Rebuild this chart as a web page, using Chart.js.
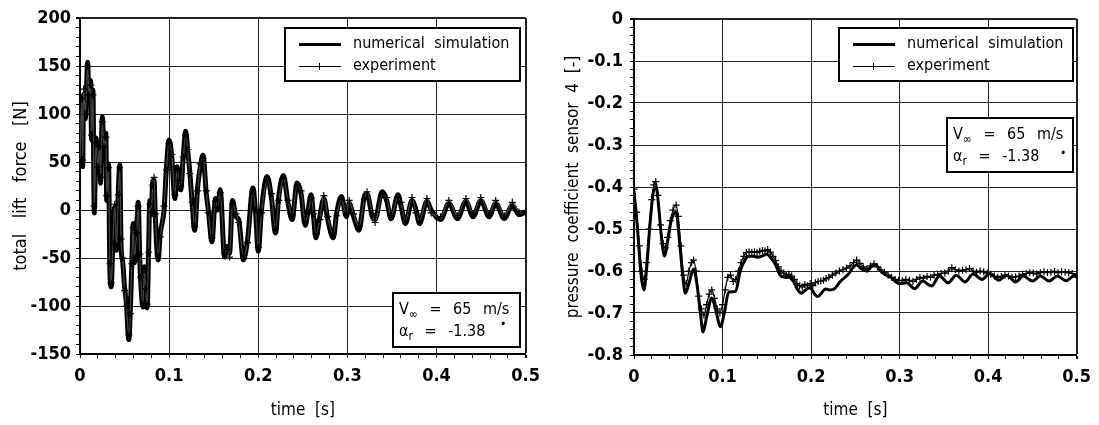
<!DOCTYPE html>
<html>
<head>
<meta charset="utf-8">
<script src="https://cdn.jsdelivr.net/npm/chart.js@4.4.1/dist/chart.umd.min.js"></script>
<style>
  body { margin: 0; background: #fff; width: 1099px; height: 425px; position: relative; overflow: hidden; }
  canvas { position: absolute; top: 0; }
  #liftChart { left: 0; }
  #cpChart { left: 548px; }
  .box {
    position: absolute; background: #fff; border: 2px solid #000; box-sizing: border-box;
    font-family: 'DejaVu Sans Condensed', 'DejaVu Sans', sans-serif;
    font-size: 16px; color: #000; white-space: pre;
  }
  .row { position: absolute; left: 0; height: 20px; line-height: 20px; }
  .legend .row { word-spacing: 5px; }
  .sample { position: absolute; background: #000; }
  .tick { position: absolute; width: 1px; height: 7px; background: #000; }
  .note .row { word-spacing: 7px; }
  .deg { position: absolute; font-size: 12px; line-height: 12px; }
  sub { font-size: 12px; vertical-align: -4px; }
</style>
</head>
<body>
<canvas id="liftChart" width="548" height="425"></canvas>
<canvas id="cpChart" width="551" height="425"></canvas>

<div class="box legend" style="left:284px; top:27px; width:237px; height:55px;">
  <div class="sample" style="left:13px; top:14px; width:42px; height:3px;"></div>
  <div class="row" style="left:67px; top:4px;">numerical simulation</div>
  <div class="sample" style="left:13px; top:37px; width:42px; height:1px;"></div>
  <div class="tick" style="left:33px; top:34px;"></div>
  <div class="row" style="left:67px; top:26px;">experiment</div>
</div>
<div class="box note" style="left:392px; top:292px; width:129px; height:56px;">
  <div class="row" style="left:5px; top:5px;">V<sub>∞</sub> = 65 m/s</div>
  <div class="row" style="left:5px; top:27px;">α<sub>r</sub> = -1.38</div>
  <div class="deg" style="left:106px; top:24px;">•</div>
</div>

<div class="box legend" style="left:838px; top:27px; width:236px; height:55px;">
  <div class="sample" style="left:13px; top:14px; width:42px; height:3px;"></div>
  <div class="row" style="left:67px; top:4px;">numerical simulation</div>
  <div class="sample" style="left:13px; top:37px; width:42px; height:1px;"></div>
  <div class="tick" style="left:33px; top:34px;"></div>
  <div class="row" style="left:67px; top:26px;">experiment</div>
</div>
<div class="box note" style="left:946px; top:117px; width:128px; height:56px;">
  <div class="row" style="left:5px; top:5px;">V<sub>∞</sub> = 65 m/s</div>
  <div class="row" style="left:5px; top:27px;">α<sub>r</sub> = -1.38</div>
  <div class="deg" style="left:112px; top:28px;">•</div>
</div>

<script>
// total lift force [N] (shared time base)
const liftT = [
  0.000, 0.002, 0.003, 0.004, 0.006, 0.0086, 0.010, 0.012, 0.013, 0.0145,
  0.016, 0.018, 0.020, 0.022, 0.023, 0.025, 0.027, 0.029, 0.030, 0.032,
  0.0335, 0.035, 0.037, 0.039, 0.041, 0.043, 0.0447, 0.046, 0.048, 0.050,
  0.052, 0.0548, 0.0565, 0.058, 0.0597, 0.061, 0.0635, 0.0653, 0.067, 0.068,
  0.0708, 0.072, 0.0735, 0.0753, 0.077, 0.0783, 0.080, 0.0815, 0.0831, 0.0845,
  0.0876, 0.090, 0.0943, 0.097, 0.0999, 0.103, 0.1065, 0.109, 0.111, 0.113,
  0.116, 0.1186, 0.121, 0.123, 0.126, 0.1286, 0.132, 0.135, 0.138, 0.1417,
  0.144, 0.148, 0.152, 0.1545, 0.1573, 0.1622, 0.165, 0.1678, 0.171, 0.175,
  0.178, 0.1834, 0.188, 0.194, 0.197, 0.200, 0.2036, 0.210, 0.2146, 0.2193,
  0.223, 0.2282, 0.2334, 0.238, 0.2435, 0.248, 0.2527, 0.256, 0.2593, 0.262,
  0.2647, 0.269, 0.2736, 0.278, 0.2841, 0.288, 0.2933, 0.2989, 0.302, 0.307,
  0.313, 0.319, 0.322, 0.328, 0.331, 0.339, 0.344, 0.349, 0.3568, 0.360,
  0.3651, 0.3725, 0.377, 0.3809, 0.3893, 0.394, 0.4046, 0.4139, 0.4234, 0.433,
  0.441, 0.4497, 0.459, 0.4664, 0.476, 0.485, 0.4925, 0.500];
const liftSim = [
  60, 110, 45, 120, 95, 154, 115, 135, 73, 125,
  -3, 75, 40, 70, 28, 97, 62, 80, 10, 48,
  -62, -80, -30, 3, -42, 20, 47, -34, -55, -80,
  -97, -135, -104, -60, -14, -55, -20, 8, -50, -73,
  -101, -59, -85, -102, -40, 10, -5, 30, 31, -7,
  -52, -25, 0, 45, 73, 55, 12, 45, 28, 21,
  58, 82, 60, 42, 5, -21, 24, 45, 57, 17,
  0, -33, 12, 0, 21, -49, -38, -45, 10, -7,
  -10, -52, -31, 23, -3, -43, 0, 35, 14, -24,
  14, 36, 7, -10, 28, 17, -16, 0, 16, -7,
  -29, -7, 12, -10, -29, -3, 14, -7, 7, -7,
  -21, 14, 17, -7, -10, 19, 10, -9, 16, 5,
  -14, 10, 0, -14, 9, 0, -10, 7, -9, 9,
  -7, 10, -7, 7, -9, 5, -5, -2];
const liftExp = [
  52, 116, 52, 126, 100, 150, 120, 130, 78, 120,
  4, 70, 45, 66, 34, 92, 66, 76, 15, 44,
  -56, -76, -34, 6, -38, 16, 44, -30, -50, -84,
  -100, -130, -108, -56, -18, -50, -24, 4, -46, -70,
  -98, -62, -82, -98, -44, 6, -2, 26, 34, -4,
  -48, -28, 4, 42, 70, 58, 16, 42, 31, 24,
  55, 78, 63, 38, 8, -17, 20, 48, 54, 20,
  -3, -29, 9, 3, 18, -45, -41, -49, 6, -4,
  -13, -48, -34, 19, 0, -39, -3, 31, 17, -20,
  10, 33, 10, -6, 25, 20, -12, -3, 13, -4,
  -25, -10, 15, -7, -25, -6, 11, -4, 10, -4,
  -17, 11, 19, -4, -13, 16, 13, -6, 13, 8,
  -11, 13, -3, -11, 12, -3, -7, 10, -6, 12,
  -4, 13, -4, 10, -6, 8, -2, -4];

// pressure coefficient sensor 4 [-]
const cpSimT = [0.000, 0.004, 0.008, 0.0112, 0.014, 0.018, 0.022, 0.025, 0.028, 0.031, 0.0346, 0.038, 0.042, 0.0476,
  0.051, 0.055, 0.058, 0.062, 0.0673, 0.071, 0.075, 0.078, 0.082, 0.0878, 0.092, 0.0978, 0.102, 0.107, 0.1146,
  0.120, 0.125, 0.1295, 0.135, 0.140, 0.145, 0.150, 0.155, 0.160, 0.165, 0.170, 0.175, 0.180, 0.185, 0.189, 0.194,
  0.199, 0.204, 0.2076, 0.212, 0.216, 0.221, 0.226, 0.233, 0.241, 0.2515, 0.257, 0.2634, 0.268, 0.2727, 0.277, 0.282,
  0.290, 0.300, 0.308, 0.317, 0.326, 0.336, 0.345, 0.355, 0.364, 0.374, 0.383, 0.393, 0.402, 0.412, 0.421, 0.431,
  0.440, 0.450, 0.459, 0.469, 0.478, 0.488, 0.497, 0.500];
const cpSim = [-0.41, -0.50, -0.61, -0.645, -0.60, -0.49, -0.41, -0.40, -0.45, -0.52, -0.565, -0.53, -0.48, -0.46,
  -0.52, -0.61, -0.653, -0.63, -0.595, -0.63, -0.70, -0.745, -0.71, -0.664, -0.69, -0.733, -0.70, -0.65, -0.649,
  -0.60, -0.575, -0.565, -0.565, -0.567, -0.564, -0.56, -0.57, -0.585, -0.61, -0.615, -0.615, -0.625, -0.645, -0.653, -0.645,
  -0.64, -0.655, -0.661, -0.652, -0.643, -0.645, -0.643, -0.625, -0.61, -0.586, -0.595, -0.60, -0.59, -0.585, -0.595, -0.606,
  -0.615, -0.630, -0.628, -0.642, -0.624, -0.636, -0.612, -0.628, -0.610, -0.626, -0.607, -0.620, -0.606, -0.622, -0.610, -0.626,
  -0.612, -0.624, -0.612, -0.624, -0.612, -0.623, -0.612, -0.614];

const cpExpT = [0.000, 0.003, 0.006, 0.009, 0.0115, 0.014, 0.017, 0.020, 0.0225, 0.0246, 0.027, 0.030, 0.033, 0.0355,
  0.038, 0.041, 0.044, 0.0476, 0.050, 0.053, 0.056, 0.059, 0.062, 0.065, 0.0673, 0.070, 0.073, 0.076, 0.079, 0.082,
  0.085, 0.0878, 0.091, 0.094, 0.097, 0.100, 0.103, 0.106, 0.109, 0.112, 0.115, 0.118, 0.121, 0.124, 0.127, 0.130,
  0.133, 0.136, 0.139, 0.142, 0.145, 0.148, 0.151, 0.154, 0.157, 0.160, 0.163, 0.166, 0.169, 0.172, 0.175, 0.178,
  0.181, 0.184, 0.187, 0.190, 0.193, 0.196, 0.199, 0.202, 0.205, 0.208, 0.211, 0.214, 0.217, 0.220, 0.224, 0.228,
  0.232, 0.236, 0.240, 0.244, 0.248, 0.2515, 0.255, 0.259, 0.263, 0.267, 0.271, 0.275, 0.279, 0.283, 0.287, 0.291,
  0.295, 0.299, 0.303, 0.307, 0.311, 0.315, 0.319, 0.323, 0.327, 0.331, 0.335, 0.339, 0.343, 0.347, 0.351, 0.355,
  0.359, 0.363, 0.367, 0.371, 0.375, 0.379, 0.383, 0.387, 0.391, 0.395, 0.399, 0.403, 0.407, 0.411, 0.415, 0.419,
  0.423, 0.427, 0.431, 0.435, 0.439, 0.443, 0.447, 0.451, 0.455, 0.459, 0.463, 0.467, 0.471, 0.475, 0.479, 0.483,
  0.487, 0.491, 0.495, 0.500];
const cpExp = [-0.405, -0.46, -0.54, -0.60, -0.62, -0.58, -0.50, -0.43, -0.395, -0.387, -0.42, -0.49, -0.535, -0.545,
  -0.52, -0.48, -0.455, -0.443, -0.47, -0.54, -0.61, -0.63, -0.60, -0.58, -0.574, -0.60, -0.66, -0.69, -0.705, -0.68,
  -0.655, -0.645, -0.665, -0.69, -0.70, -0.68, -0.645, -0.615, -0.61, -0.625, -0.62, -0.60, -0.58, -0.565, -0.556, -0.554,
  -0.556, -0.554, -0.556, -0.553, -0.551, -0.552, -0.549, -0.555, -0.565, -0.575, -0.59, -0.60, -0.605, -0.61, -0.608, -0.612,
  -0.62, -0.63, -0.635, -0.638, -0.632, -0.635, -0.63, -0.635, -0.628, -0.625, -0.624, -0.622, -0.618, -0.615, -0.61, -0.605,
  -0.60, -0.597, -0.593, -0.588, -0.58, -0.574, -0.582, -0.59, -0.595, -0.588, -0.583, -0.59, -0.598, -0.603, -0.61, -0.615,
  -0.62, -0.622, -0.623, -0.62, -0.622, -0.625, -0.62, -0.615, -0.617, -0.613, -0.615, -0.61, -0.608, -0.606, -0.605, -0.60,
  -0.592, -0.597, -0.60, -0.598, -0.597, -0.594, -0.600, -0.603, -0.600, -0.602, -0.605, -0.608, -0.612, -0.615, -0.613, -0.610,
  -0.612, -0.615, -0.614, -0.612, -0.608, -0.606, -0.604, -0.605, -0.607, -0.604, -0.602, -0.604, -0.603, -0.601, -0.604, -0.602,
  -0.603, -0.604, -0.606, -0.608];

const seriesNames = ['numerical simulation', 'experiment'];

const FONT = "'DejaVu Sans Condensed', 'DejaVu Sans', sans-serif";

function pairs(ts, vs) {
  return ts.map((t, i) => ({ x: t, y: vs[i] }));
}

function isMajor(v, step) {
  const r = Math.round(v / step * 1000) / 1000;
  return Math.abs(r - Math.round(r)) < 1e-6;
}

function make_chart(canvasId, cfg) {
  const data = {
    datasets: [{
      label: seriesNames[0],
      data: pairs(cfg.simT, cfg.sim),
      borderColor: '#000',
      borderWidth: cfg.simWidth,
      pointRadius: 0,
      cubicInterpolationMode: 'monotone',
      order: 2
    }, {
      label: seriesNames[1],
      data: pairs(cfg.expT, cfg.exp),
      borderColor: cfg.expColor,
      borderWidth: 1.2,
      pointStyle: 'cross',
      pointRadius: 3.5,
      pointBorderWidth: 1.2,
      pointBorderColor: '#000',
      cubicInterpolationMode: 'monotone',
      order: 1
    }]
  };

  const config = {
    type: 'line',
    data: data,
    options: {
      responsive: false,
      animation: false,
      layout: {
        padding: { left: 0, right: cfg.padRight, top: cfg.padTop, bottom: 0 }
      },
      plugins: {
        legend: { display: false },
        tooltip: { enabled: false }
      },
      scales: {
        x: {
          type: 'linear',
          min: 0,
          max: 0.5,
          afterFit: (scale) => { scale.height = cfg.xHeight; },
          ticks: {
            stepSize: 0.02,
            autoSkip: false,
            maxRotation: 0,
            padding: 8,
            color: '#000',
            font: { family: FONT, size: 18, weight: 'bold' },
            callback: (v) => isMajor(v, 0.1) ? String(Math.round(v * 10) / 10) : ''
          },
          grid: {
            color: (ctx) => isMajor(ctx.tick.value, 0.1) ? '#222' : 'rgba(0,0,0,0)',
            lineWidth: (ctx) => ctx.tick.value === 0.5 ? 2 : 1,
            tickColor: '#000',
            tickLength: 4
          },
          border: { color: '#000', width: 2 },
          title: {
            display: true,
            text: 'time  [s]',
            color: '#000',
            font: { family: FONT, size: 17 },
            padding: { top: 0, bottom: 4 }
          }
        },
        y: {
          min: cfg.yMin,
          max: cfg.yMax,
          afterFit: (scale) => { scale.width = cfg.yWidth; },
          ticks: {
            stepSize: cfg.yMinor,
            autoSkip: false,
            padding: cfg.yTickPad,
            color: '#000',
            font: { family: FONT, size: 18, weight: 'bold' },
            callback: (v) => isMajor(v, cfg.yMajor) ? cfg.fmt(v) : ''
          },
          grid: {
            color: (ctx) => isMajor(ctx.tick.value, cfg.yMajor) ? '#222' : 'rgba(0,0,0,0)',
            lineWidth: (ctx) => ctx.tick.value === cfg.yMax ? 2 : 1,
            tickColor: '#000',
            tickLength: 4
          },
          border: { color: '#000', width: 2 },
          title: {
            display: true,
            text: cfg.yTitle,
            color: '#000',
            font: { family: FONT, size: cfg.yTitleSize },
            padding: { top: cfg.yTitlePad, bottom: 0 }
          }
        }
      }
    }
  };

  return new Chart(document.getElementById(canvasId), config);
}

make_chart('liftChart', {
  simT: liftT, sim: liftSim, expT: liftT, exp: liftExp,
  simWidth: 5, expColor: '#444',
  yMin: -150, yMax: 200, yMinor: 10, yMajor: 50,
  fmt: (v) => String(Math.round(v)),
  yTitle: 'total   lift   force   [N]', yTitleSize: 18,
  yWidth: 80, xHeight: 71, padRight: 21, padTop: 18,
  yTickPad: 5, yTitlePad: 11
});

make_chart('cpChart', {
  simT: cpSimT, sim: cpSim, expT: cpExpT, exp: cpExp,
  simWidth: 3, expColor: '#000',
  yMin: -0.8, yMax: 0, yMinor: 0.02, yMajor: 0.1,
  fmt: (v) => { const r = Math.round(v * 10) / 10; return r === 0 ? '0' : String(r); },
  yTitle: 'pressure  coefficient  sensor  4  [-]', yTitleSize: 17,
  yWidth: 86, xHeight: 70, padRight: 17, padTop: 19,
  yTickPad: 7, yTitlePad: 15
});
</script>
</body>
</html>
